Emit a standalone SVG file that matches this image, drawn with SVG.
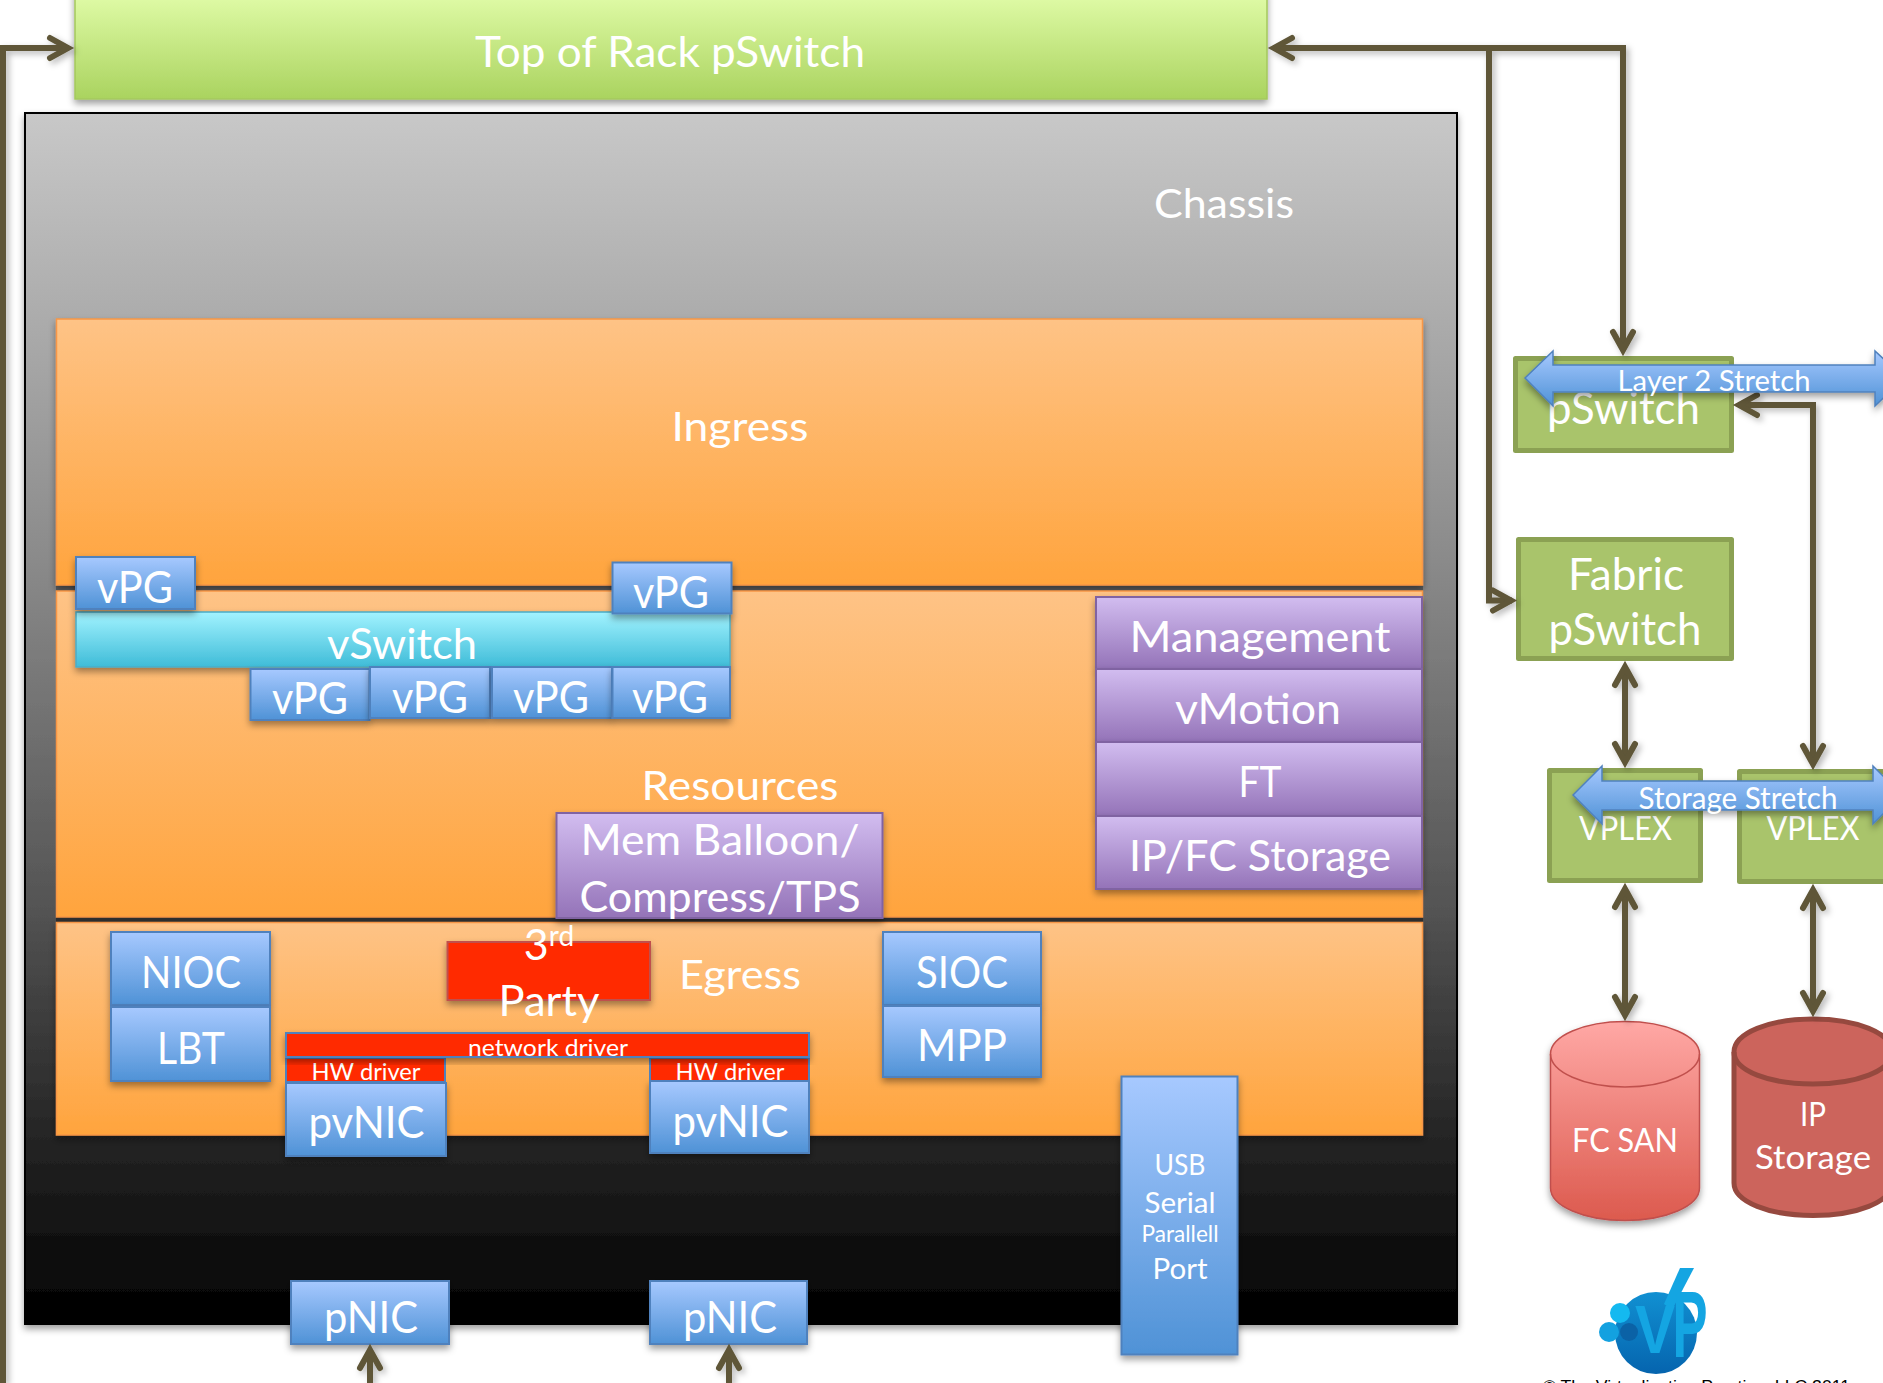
<svg xmlns="http://www.w3.org/2000/svg" width="1883" height="1383" viewBox="0 0 1883 1383">
<style>
text{font-family:Lato,"Open Sans",sans-serif;fill:#fff;text-anchor:middle}
.s{filter:url(#sh)}
.b{fill:url(#gb);stroke:#4f81bd;stroke-width:2}
.p{fill:url(#gp);stroke:#8064a2;stroke-width:2}
.o{fill:url(#go);stroke:#f79646;stroke-width:1.5}
.g{fill:#a9c46b;stroke:#8ba153;stroke-width:5;stroke-linejoin:round}
.r{fill:#ff2a00}
.l{fill:none;stroke:#5e5638;stroke-width:6}
</style>
<defs>
<filter id="sh" x="-20%" y="-20%" width="140%" height="150%"><feDropShadow dx="0" dy="4" stdDeviation="3.5" flood-color="#000" flood-opacity=".38"/></filter>
<filter id="cs" filterUnits="userSpaceOnUse" x="0" y="0" width="1883" height="1383"><feDropShadow dx="3" dy="3" stdDeviation="3" flood-color="#000" flood-opacity=".28"/></filter>
<linearGradient id="gb" x1="0" y1="0" x2="0" y2="1"><stop offset="0" stop-color="#a7c9ff"/><stop offset="1" stop-color="#4f92d6"/></linearGradient>
<linearGradient id="gp" x1="0" y1="0" x2="0" y2="1"><stop offset="0" stop-color="#d2bdf0"/><stop offset="1" stop-color="#9473b8"/></linearGradient>
<linearGradient id="go" x1="0" y1="0" x2="0" y2="1"><stop offset="0" stop-color="#fec386"/><stop offset="1" stop-color="#ffa43d"/></linearGradient>
<linearGradient id="gc" x1="0" y1="0" x2="0" y2="1"><stop offset="0" stop-color="#a2f3ff"/><stop offset="1" stop-color="#3fbcd8"/></linearGradient>
<linearGradient id="gt" x1="0" y1="0" x2="0" y2="1"><stop offset="0" stop-color="#e2fdaa"/><stop offset="1" stop-color="#aad35f"/></linearGradient>
<linearGradient id="gr" x1="0" y1="0" x2="0" y2="1"><stop offset="0" stop-color="#ffa8a5"/><stop offset="1" stop-color="#dc5a4e"/></linearGradient>
<linearGradient id="gh" x1="0" y1="0" x2="0" y2="1"><stop offset="0" stop-color="#c8c8c8"/><stop offset=".37" stop-color="#8a8a8a"/><stop offset=".65" stop-color="#555"/><stop offset=".84" stop-color="#262626"/><stop offset="1" stop-color="#000"/></linearGradient>
<linearGradient id="gl" x1="0" y1="0" x2="0" y2="1"><stop offset="0" stop-color="#1190d2"/><stop offset="1" stop-color="#0564ae"/></linearGradient>
<marker id="a" viewBox="0 0 30 28" markerUnits="userSpaceOnUse" markerWidth="30" markerHeight="28" refX="21" refY="14" orient="auto-start-reverse" overflow="visible"><path d="M2 4L20 14L2 24" fill="none" stroke="#5e5638" stroke-width="6" stroke-linecap="round"/></marker>
</defs>
<rect width="1883" height="1383" fill="#fff"/>

<g id="chassis">
<rect x="25" y="113" width="1432" height="1211" fill="url(#gh)" stroke="#000" stroke-width="2" class="s"/>
<rect x="56" y="584" width="1367" height="7" fill="#5c5c5c"/>
<rect x="56" y="916" width="1367" height="7" fill="#2e2e2e"/>
<text x="1224" y="218" font-size="41" textLength="140" lengthAdjust="spacingAndGlyphs">Chassis</text>
</g>
<g id="ingress">
<rect x="56.500" y="319" width="1366" height="266" class="o s"/>
<text x="740" y="441" font-size="41" textLength="137" lengthAdjust="spacingAndGlyphs">Ingress</text>
</g>
<g id="resources">
<rect x="56.500" y="591" width="1366" height="326" class="o"/>
<text x="740" y="800" font-size="41" textLength="197" lengthAdjust="spacingAndGlyphs">Resources</text>
</g>
<g id="egress">
<rect x="56.500" y="922.500" width="1366" height="212.500" class="o s"/>
<text x="740" y="989" font-size="41" textLength="122" lengthAdjust="spacingAndGlyphs">Egress</text>
</g>

<g id="tor">
<rect x="75" y="-10" width="1192" height="109" fill="url(#gt)" stroke="#a4c85e" stroke-width="1.500" class="s"/>
<text x="670" y="67" font-size="42" textLength="390" lengthAdjust="spacingAndGlyphs">Top of Rack pSwitch</text>
</g>

<g id="vswitch">
<rect x="76" y="612" width="654" height="55" fill="url(#gc)" stroke="#4bacc6" stroke-width="1.500" class="s"/>
<text x="402" y="659" font-size="42" textLength="150" lengthAdjust="spacingAndGlyphs">vSwitch</text>
</g>
<g id="vpg1"><rect x="76" y="557" width="119" height="52" class="b s"/><text x="135" y="602.500" font-size="44" textLength="76" lengthAdjust="spacingAndGlyphs">vPG</text></g>
<g id="vpg2"><rect x="612.500" y="562.500" width="119" height="51" class="b s"/><text x="671" y="607.500" font-size="44" textLength="76" lengthAdjust="spacingAndGlyphs">vPG</text></g>
<g id="vpg3"><rect x="250.500" y="669" width="119" height="51" class="b s"/><text x="310" y="713.500" font-size="44" textLength="76" lengthAdjust="spacingAndGlyphs">vPG</text></g>
<g id="vpg4"><rect x="370" y="667" width="120" height="51" class="b s"/><text x="430" y="712.500" font-size="44" textLength="76" lengthAdjust="spacingAndGlyphs">vPG</text></g>
<g id="vpg5"><rect x="492" y="667" width="120" height="51" class="b s"/><text x="551" y="712.500" font-size="44" textLength="76" lengthAdjust="spacingAndGlyphs">vPG</text></g>
<g id="vpg6"><rect x="612.500" y="667" width="117.500" height="51" class="b s"/><text x="670" y="712.500" font-size="44" textLength="76" lengthAdjust="spacingAndGlyphs">vPG</text></g>

<g id="management"><rect x="1096" y="597" width="326" height="72" class="p s"/><text x="1260" y="652" font-size="42" textLength="261" lengthAdjust="spacingAndGlyphs">Management</text></g>
<g id="vmotion"><rect x="1096" y="669" width="326" height="73" class="p s"/><text x="1258" y="724" font-size="42" textLength="166" lengthAdjust="spacingAndGlyphs">vMotion</text></g>
<g id="ft"><rect x="1096" y="742" width="326" height="74" class="p s"/><text x="1260" y="797" font-size="42" textLength="43" lengthAdjust="spacingAndGlyphs">FT</text></g>
<g id="ipfc"><rect x="1096" y="816" width="326" height="73" class="p s"/><text x="1260" y="871" font-size="42" textLength="262" lengthAdjust="spacingAndGlyphs">IP/FC Storage</text></g>
<g id="mem"><rect x="556.500" y="813" width="326" height="105" class="p s"/><text x="720" y="855" font-size="42" textLength="279" lengthAdjust="spacingAndGlyphs">Mem Balloon/</text><text x="720" y="911.500" font-size="42" textLength="281" lengthAdjust="spacingAndGlyphs">Compress/TPS</text></g>

<g id="nioc"><rect x="111" y="932" width="159" height="73" class="b s"/><text x="191" y="987.500" font-size="44" textLength="100" lengthAdjust="spacingAndGlyphs">NIOC</text></g>
<g id="lbt"><rect x="111" y="1007" width="159" height="74" class="b s"/><text x="191" y="1064" font-size="44" textLength="68" lengthAdjust="spacingAndGlyphs">LBT</text></g>
<g id="sioc"><rect x="883" y="932" width="158" height="73" class="b s"/><text x="962" y="987.500" font-size="44" textLength="92" lengthAdjust="spacingAndGlyphs">SIOC</text></g>
<g id="mpp"><rect x="883" y="1006" width="158" height="71" class="b s"/><text x="962" y="1060.500" font-size="44" textLength="90" lengthAdjust="spacingAndGlyphs">MPP</text></g>

<g id="pvnic1"><rect x="286" y="1083" width="160" height="73" class="b s"/><text x="366.500" y="1138" font-size="44" textLength="116" lengthAdjust="spacingAndGlyphs">pvNIC</text></g>
<g id="pvnic2"><rect x="650" y="1081" width="159" height="72" class="b s"/><text x="730.500" y="1137" font-size="44" textLength="116" lengthAdjust="spacingAndGlyphs">pvNIC</text></g>
<g id="hw1"><rect x="286" y="1058" width="159" height="24" class="r" stroke="#4f81bd" stroke-width="2"/><text x="366" y="1079.500" font-size="23" textLength="109" lengthAdjust="spacingAndGlyphs">HW driver</text></g>
<g id="hw2"><rect x="650" y="1058" width="159" height="23" class="r" stroke="#4f81bd" stroke-width="2"/><text x="730" y="1079.500" font-size="23" textLength="109" lengthAdjust="spacingAndGlyphs">HW driver</text></g>
<g id="netdrv"><rect x="286" y="1033" width="523" height="24" class="r s" stroke="#4f81bd" stroke-width="2"/><text x="548" y="1055.500" font-size="23" textLength="160" lengthAdjust="spacingAndGlyphs">network driver</text></g>
<g id="third"><rect x="447.500" y="942" width="202.500" height="58" class="r s" stroke="#c0504d" stroke-width="2"/><text x="549" y="960" font-size="43">3<tspan font-size="28" dy="-14">rd</tspan></text><text x="549" y="1016" font-size="43" textLength="101" lengthAdjust="spacingAndGlyphs">Party</text></g>

<g id="usb"><rect x="1121.500" y="1076.500" width="116" height="278" class="b s"/><text x="1180" y="1175" font-size="29" textLength="51" lengthAdjust="spacingAndGlyphs">USB</text><text x="1180" y="1213" font-size="29" textLength="71" lengthAdjust="spacingAndGlyphs">Serial</text><text x="1180" y="1242" font-size="23" textLength="77" lengthAdjust="spacingAndGlyphs">Parallell</text><text x="1180" y="1279" font-size="29" textLength="55" lengthAdjust="spacingAndGlyphs">Port</text></g>
<g id="pnic1"><rect x="291" y="1281" width="158" height="63" class="b s"/><text x="371" y="1333" font-size="44" textLength="94" lengthAdjust="spacingAndGlyphs">pNIC</text></g>
<g id="pnic2"><rect x="650" y="1281" width="157" height="63" class="b s"/><text x="730" y="1333" font-size="44" textLength="94" lengthAdjust="spacingAndGlyphs">pNIC</text></g>

<g id="pswitch"><rect x="1515.500" y="358.500" width="216" height="92" class="g"/><text x="1623.500" y="424" font-size="44" textLength="153" lengthAdjust="spacingAndGlyphs">pSwitch</text></g>
<g id="fabric"><rect x="1518.500" y="539.500" width="213" height="119" class="g"/><text x="1626" y="590" font-size="44" textLength="116" lengthAdjust="spacingAndGlyphs">Fabric</text><text x="1625" y="645" font-size="44" textLength="153" lengthAdjust="spacingAndGlyphs">pSwitch</text></g>
<g id="vplex1"><rect x="1549.500" y="770.500" width="151" height="110" class="g"/><text x="1625.500" y="840" font-size="33" textLength="93" lengthAdjust="spacingAndGlyphs">VPLEX</text></g>
<g id="vplex2"><rect x="1739.500" y="771.500" width="160" height="110" class="g"/><text x="1813" y="840" font-size="33" textLength="93" lengthAdjust="spacingAndGlyphs">VPLEX</text></g>

<g id="fcsan">
<path class="s" d="M1550.500 1054C1550.500 1036 1584 1021.500 1625 1021.500S1699.500 1036 1699.500 1054V1188C1699.500 1206 1666 1220.500 1625 1220.500S1550.500 1206 1550.500 1188Z" fill="url(#gr)" stroke="#c0504d" stroke-width="1.500"/>
<path d="M1550.500 1054C1550.500 1072 1584 1087 1625 1087S1699.500 1072 1699.500 1054" fill="none" stroke="#c0504d" stroke-width="1.500"/>
<text x="1625" y="1152" font-size="33" textLength="106" lengthAdjust="spacingAndGlyphs">FC SAN</text>
</g>
<g id="ipstorage">
<path d="M1734 1052C1734 1033 1769.500 1019 1813 1019S1892 1033 1892 1052V1183C1892 1202 1856.500 1215.500 1813 1215.500S1734 1202 1734 1183Z" fill="#cc645c" stroke="#96493f" stroke-width="5"/>
<path d="M1734 1052C1734 1071 1769.500 1084 1813 1084S1892 1071 1892 1052" fill="none" stroke="#96493f" stroke-width="5"/>
<text x="1813" y="1126" font-size="33" textLength="26" lengthAdjust="spacingAndGlyphs">IP</text>
<text x="1813" y="1169" font-size="33" textLength="116" lengthAdjust="spacingAndGlyphs">Storage</text>
</g>

<g id="logo">
<circle cx="1656" cy="1333" r="41" fill="url(#gl)"/>
<circle cx="1629" cy="1332" r="9" fill="#0b62a6"/>
<circle cx="1609" cy="1332" r="10" fill="#13a1e0"/>
<circle cx="1620" cy="1313" r="10" fill="#14b9f0"/>
<polygon points="1680,1268 1694,1268 1672,1310 1664,1304" fill="#14a5e2"/>
<text x="1655" y="1353" font-size="68" font-weight="700" textLength="40" lengthAdjust="spacingAndGlyphs" style="font-family:'Liberation Sans',sans-serif;fill:#14a5e2">V</text>
<text x="1690" y="1357" font-size="94" font-weight="700" textLength="35" lengthAdjust="spacingAndGlyphs" style="font-family:'Liberation Sans',sans-serif;fill:#14a5e2">P</text>
<text x="1696.500" y="1391.500" font-size="16" textLength="307" lengthAdjust="spacingAndGlyphs" style="font-family:'Liberation Sans',Arial,sans-serif;fill:#000">© The Virtualization Practice, LLC 2011</text>
</g>

<g id="connectors" filter="url(#cs)">
<path class="l" d="M3 1383V48H69" marker-end="url(#a)"/>
<path class="l" d="M1273 48H1623V351" marker-start="url(#a)" marker-end="url(#a)"/>
<path class="l" d="M1489 48V600.500H1512" marker-end="url(#a)"/>
<path class="l" d="M1738 405H1813V765" marker-start="url(#a)" marker-end="url(#a)"/>
<path class="l" d="M1625 666V763" marker-start="url(#a)" marker-end="url(#a)"/>
<path class="l" d="M1625 888V1016" marker-start="url(#a)" marker-end="url(#a)"/>
<path class="l" d="M1813 889V1012" marker-start="url(#a)" marker-end="url(#a)"/>
<path class="l" d="M370 1383V1349" marker-end="url(#a)"/>
<path class="l" d="M729 1383V1349" marker-end="url(#a)"/>
</g>

<g id="layer2">
<path d="M1525 378L1553 351V365H1875V351L1904 378L1875 406V392H1553V406Z" fill="url(#gb)" stroke="#4f81bd" stroke-width="1.500" class="s"/>
<text x="1714" y="391" font-size="29" textLength="193" lengthAdjust="spacingAndGlyphs">Layer 2 Stretch</text>
</g>
<g id="storage">
<path d="M1573 795L1602 766V781H1873V766L1902 795L1873 824V810H1602V824Z" fill="url(#gb)" stroke="#4f81bd" stroke-width="1.500" class="s"/>
<text x="1738" y="808.500" font-size="31" textLength="199" lengthAdjust="spacingAndGlyphs">Storage Stretch</text>
</g>
</svg>
